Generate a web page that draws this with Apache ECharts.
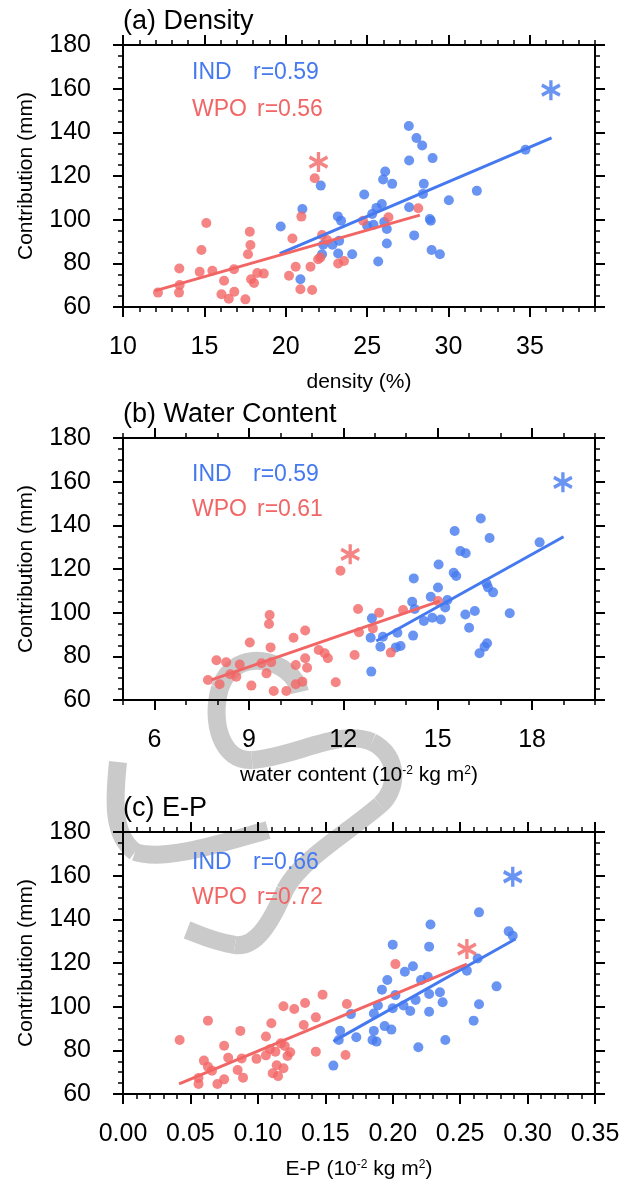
<!DOCTYPE html>
<html lang="en">
<head>
<meta charset="utf-8">
<title>Contribution scatter</title>
<script src="https://cdn.jsdelivr.net/npm/echarts@6/dist/echarts.min.js"></script>
<style>
  html, body { margin: 0; padding: 0; background: #fff; }
  #main { width: 643px; height: 1182px; }
</style>
</head>
<body>
<div id="main"></div>
<script type="text/javascript">
// ---- (a) density ----
var aIndX = [27.56,28.03,28.38,27.58,29.02,34.73,26.11,25.98,26.54,22.15,24.82,28.48,28.43,30.02,31.74,27.58,25.90,25.57,25.31,21.02,23.20,23.40,28.85,28.91,25.00,25.39,26.05,26.21,19.69,27.89,23.28,22.87,22.30,26.21,22.23,23.22,24.08,28.96,29.47,25.68,20.90];
var aIndY = [142.9,137.4,134.0,127.1,128.2,132.0,122.1,118.4,116.4,115.6,111.5,116.4,111.8,108.9,113.2,105.7,107.2,105.4,102.6,104.9,101.5,99.5,100.3,99.5,97.2,97.7,98.9,95.7,96.9,92.8,90.3,88.5,88.5,89.1,84.2,84.5,84.2,86.1,84.2,80.8,72.7];
var aWpoX = [21.78,20.96,24.75,26.31,28.14,15.12,17.79,17.83,17.68,20.41,22.23,22.54,14.82,13.46,14.71,15.49,16.82,18.25,18.65,17.87,18.05,16.21,13.48,13.44,12.15,16.05,16.84,16.50,17.52,20.20,20.61,21.52,21.99,22.13,23.22,23.58,20.90,21.62];
var aWpoY = [119.0,101.4,99.5,101.1,105.2,98.5,94.5,88.4,84.2,91.4,93.0,90.7,86.1,77.6,76.1,76.6,77.3,75.6,75.3,72.7,71.0,72.0,70.1,66.6,66.6,65.8,67.0,63.8,63.5,74.3,78.4,78.4,81.9,82.7,79.9,81.1,68.1,67.8];
var aStarInd = [36.29, 159.3], aStarWpo = [22.01, 126.4];
var aFitInd = [[19.63, 84.5], [36.33, 137.5]];
var aFitWpo = [[11.95, 67.4], [28.24, 102.1]];

// ---- (b) water content ----
var bIndX = [16.37,15.54,16.65,18.24,15.72,15.89,15.03,14.24,15.51,15.59,16.55,16.60,16.76,15.01,14.78,15.31,15.24,14.19,14.27,17.29,15.88,16.18,16.00,14.56,14.83,15.10,12.91,12.87,13.26,13.72,13.18,13.67,13.82,14.22,16.57,16.49,16.33,12.89];
var bIndY = [143.1,137.4,134.2,132.2,128.2,127.2,122.1,115.7,118.3,116.8,113.4,111.6,109.3,111.5,107.3,105.8,102.4,105.0,101.7,99.7,99.2,100.8,93.1,96.2,97.7,96.9,97.4,88.5,89.0,90.8,84.4,84.1,84.7,89.5,86.0,84.4,81.4,73.0];
var bWpoX = [11.91,12.47,13.14,13.90,15.01,12.94,12.50,9.66,9.64,10.79,10.42,9.03,9.69,11.22,11.41,11.51,12.36,13.51,10.79,10.49,10.85,7.97,8.28,8.71,9.40,9.71,9.56,8.41,7.70,8.07,8.60,9.08,9.79,10.19,10.49,10.70,11.76];
var bWpoY = [119.2,101.7,100.0,101.2,105.3,92.8,91.0,98.9,94.8,91.8,88.5,86.3,84.1,82.9,81.4,79.1,80.6,81.7,79.1,76.0,74.8,78.2,77.3,76.3,76.8,77.3,72.2,71.8,69.2,67.2,70.7,66.6,64.1,64.1,67.2,68.4,68.1];
var bStarInd = [18.98, 159.7], bStarWpo = [12.22, 126.7];
var bFitInd = [[13.05, 87.0], [19.0, 134.8]];
var bFitWpo = [[7.81, 69.2], [15.06, 105.3]];

// ---- (c) E-P ----
var cIndX = [0.264,0.228,0.286,0.289,0.200,0.227,0.263,0.215,0.209,0.255,0.196,0.221,0.226,0.277,0.192,0.202,0.227,0.235,0.217,0.237,0.264,0.189,0.200,0.208,0.213,0.227,0.169,0.186,0.260,0.194,0.199,0.161,0.186,0.173,0.185,0.188,0.160,0.239,0.219,0.156];
var cIndY = [143.2,137.6,134.5,132.5,128.4,127.5,122.1,118.5,116.0,116.5,112.2,112.2,113.7,109.3,107.8,105.3,105.8,106.6,103.1,102.0,101.1,100.5,99.3,100.5,98.0,97.7,96.6,96.9,93.6,91.1,89.5,89.0,88.9,86.0,84.7,84.0,84.7,84.7,81.4,73.0];
var cWpoX = [0.202,0.148,0.166,0.119,0.127,0.135,0.143,0.134,0.110,0.063,0.087,0.106,0.042,0.075,0.117,0.120,0.109,0.113,0.124,0.122,0.143,0.165,0.078,0.088,0.099,0.106,0.060,0.063,0.066,0.056,0.056,0.070,0.075,0.085,0.089,0.111,0.115,0.114,0.119];
var cWpoY = [119.5,105.5,101.2,100.2,98.9,101.7,95.1,91.6,92.4,93.6,88.9,86.3,84.7,82.1,83.2,82.0,80.5,79.4,79.1,77.4,79.4,77.9,76.6,76.3,76.1,77.7,75.3,72.5,70.7,67.3,64.6,64.6,66.7,71.0,67.5,69.5,68.2,73.2,71.8];
var cStarInd = [0.289, 159.5], cStarWpo = [0.255, 126.4];
var cFitInd = [[0.156, 84.1], [0.291, 131.0]];
var cFitWpo = [[0.0416, 64.6], [0.255, 119.5]];

// ---- ticks / labels ----
var yTicks = [60, 80, 100, 120, 140, 160, 180];
var aTicks = [10, 15, 20, 25, 30, 35];
var bTicks = [6, 9, 12, 15, 18];
var cTicks = [0, 0.05, 0.10, 0.15, 0.20, 0.25, 0.30, 0.35];
var titles = ['(a) Density', '(b) Water Content', '(c) E-P'];
var xNames = ['density (%)', 'water content (10{sup|-2} kg m{sup|2})', 'E-P (10{sup|-2} kg m{sup|2})'];
var rInd = ['r=0.59', 'r=0.59', 'r=0.66'];
var rWpo = ['r=0.56', 'r=0.61', 'r=0.72'];

var BLUE = '#4579ef';
var RED = '#f26565';
var GREY = '#cacaca';
var FONT = 'Liberation Sans, Arial, Helvetica, sans-serif';
var STAR = 'path://M0,-10L0,10M-8.66,-5L8.66,5M-8.66,5L8.66,-5';

function zip(xs, ys) {
    var out = [];
    for (var i = 0; i < xs.length; i++) out.push([xs[i], ys[i]]);
    return out;
}

var panels = [
    {top: 45, min: 10, max: 39, ticks: aTicks, minor: 1, fmt: function (v) { return String(v); },
     ind: zip(aIndX, aIndY), wpo: zip(aWpoX, aWpoY), sInd: aStarInd, sWpo: aStarWpo, fInd: aFitInd, fWpo: aFitWpo,
     tInd: [73, 110]},
    {top: 438, min: 5, max: 20, ticks: bTicks, minor: 1, fmt: function (v) { return String(v); },
     ind: zip(bIndX, bIndY), wpo: zip(bWpoX, bWpoY), sInd: bStarInd, sWpo: bStarWpo, fInd: bFitInd, fWpo: bFitWpo,
     tInd: [475, 510]},
    {top: 832, min: 0, max: 0.35, ticks: cTicks, minor: 0.01, fmt: function (v) { return v.toFixed(2); },
     ind: zip(cIndX, cIndY), wpo: zip(cWpoX, cWpoY), sInd: cStarInd, sWpo: cStarWpo, fInd: cFitInd, fWpo: cFitWpo,
     tInd: [863, 898]}
];

var grids = [], xAxes = [], yAxes = [], series = [], graphics = [];
var axisLine = {show: true, onZero: false, lineStyle: {color: '#000', width: 2}};
var noLine = {show: false, onZero: false};

// faint watermark strokes behind the plots
var marks = [
    [300,692, 292,658, 235,645, 220,688],
    [220,688, 210,722, 222,762, 252,760],
    [252,760, 295,757, 340,728, 372,742],
    [372,742, 400,756, 398,790, 380,805],
    [380,805, 345,835, 300,860, 285,890],
    [285,890, 270,925, 255,948, 235,945],
    [235,945, 215,942, 200,935, 187,930],
    [118,762, 114,800, 112,835, 135,852],
    [135,852, 165,862, 225,842, 268,830]
];
marks.forEach(function (m) {
    graphics.push({type: 'bezierCurve', z: -10, silent: true,
        shape: {x1: m[0], y1: m[1], cpx1: m[2], cpy1: m[3], cpx2: m[4], cpy2: m[5], x2: m[6], y2: m[7]},
        style: {stroke: GREY, lineWidth: 18, fill: null, lineCap: 'butt'}});
});

panels.forEach(function (p, gi) {
    grids.push({left: 123, width: 472, top: p.top, height: 262});

    var xBase = {gridIndex: gi, type: 'value', min: p.min, max: p.max, splitLine: {show: false}};
    xAxes.push(Object.assign({}, xBase, {
        position: 'bottom', axisLine: axisLine,
        axisTick: {customValues: p.ticks, length: 10, lineStyle: {color: '#000', width: 2}},
        axisLabel: {customValues: p.ticks, formatter: p.fmt, fontSize: 25, margin: 28, color: '#000', fontFamily: FONT},
        name: xNames[gi], nameLocation: 'middle', nameGap: 65,
        nameTextStyle: {fontSize: 21, color: '#000', fontFamily: FONT,
            rich: {sup: {fontSize: 12, color: '#000', fontFamily: FONT, verticalAlign: 'top'}}}
    }));
    xAxes.push(Object.assign({}, xBase, {
        position: 'bottom', interval: p.minor, axisLine: noLine,
        axisTick: {length: 5, lineStyle: {color: '#000', width: 1.5}}, axisLabel: {show: false}
    }));
    xAxes.push(Object.assign({}, xBase, {
        position: 'top', axisLine: axisLine,
        axisTick: {customValues: p.ticks, length: 10, lineStyle: {color: '#000', width: 2}}, axisLabel: {show: false}
    }));
    xAxes.push(Object.assign({}, xBase, {
        position: 'top', interval: p.minor, axisLine: noLine,
        axisTick: {length: 5, lineStyle: {color: '#000', width: 1.5}}, axisLabel: {show: false}
    }));

    var yBase = {gridIndex: gi, type: 'value', min: 60, max: 180, splitLine: {show: false}};
    yAxes.push(Object.assign({}, yBase, {
        position: 'left', axisLine: axisLine,
        axisTick: {customValues: yTicks, length: 10, lineStyle: {color: '#000', width: 2}},
        axisLabel: {customValues: yTicks, fontSize: 25, margin: 32, color: '#000', fontFamily: FONT},
        name: 'Contribution (mm)', nameLocation: 'middle', nameGap: 86,
        nameTextStyle: {fontSize: 21, color: '#000', fontFamily: FONT}
    }));
    yAxes.push(Object.assign({}, yBase, {
        position: 'left', interval: 5, axisLine: noLine,
        axisTick: {length: 5, lineStyle: {color: '#000', width: 1.5}}, axisLabel: {show: false}
    }));
    yAxes.push(Object.assign({}, yBase, {
        position: 'right', axisLine: axisLine,
        axisTick: {customValues: yTicks, length: 10, lineStyle: {color: '#000', width: 2}}, axisLabel: {show: false}
    }));
    yAxes.push(Object.assign({}, yBase, {
        position: 'right', interval: 5, axisLine: noLine,
        axisTick: {length: 5, lineStyle: {color: '#000', width: 1.5}}, axisLabel: {show: false}
    }));

    var ax = gi * 4;
    series.push({type: 'scatter', xAxisIndex: ax, yAxisIndex: ax, data: p.ind,
        symbolSize: 10, itemStyle: {color: BLUE}});
    series.push({type: 'scatter', xAxisIndex: ax, yAxisIndex: ax, data: p.wpo,
        symbolSize: 10, itemStyle: {color: RED}});
    series.push({type: 'line', xAxisIndex: ax, yAxisIndex: ax, data: p.fInd, showSymbol: false,
        lineStyle: {color: BLUE, width: 3}});
    series.push({type: 'line', xAxisIndex: ax, yAxisIndex: ax, data: p.fWpo, showSymbol: false,
        lineStyle: {color: RED, width: 3}});
    series.push({type: 'scatter', xAxisIndex: ax, yAxisIndex: ax, data: [p.sInd],
        symbol: STAR, symbolSize: [18, 20],
        itemStyle: {color: 'none', borderColor: BLUE, borderWidth: 3.5}});
    series.push({type: 'scatter', xAxisIndex: ax, yAxisIndex: ax, data: [p.sWpo],
        symbol: STAR, symbolSize: [18, 20],
        itemStyle: {color: 'none', borderColor: RED, borderWidth: 3.5}});

    graphics.push({type: 'text', left: 123, top: p.top - 37,
        style: {text: titles[gi], font: '27px ' + FONT, fill: '#000'}});
    graphics.push({type: 'text', x: 192, y: p.tInd[0],
        style: {text: 'IND', font: '23px ' + FONT, fill: BLUE, verticalAlign: 'middle'}});
    graphics.push({type: 'text', x: 253, y: p.tInd[0],
        style: {text: rInd[gi], font: '23px ' + FONT, fill: BLUE, verticalAlign: 'middle'}});
    graphics.push({type: 'text', x: 192, y: p.tInd[1],
        style: {text: 'WPO', font: '23px ' + FONT, fill: RED, verticalAlign: 'middle'}});
    graphics.push({type: 'text', x: 257, y: p.tInd[1],
        style: {text: rWpo[gi], font: '23px ' + FONT, fill: RED, verticalAlign: 'middle'}});
});

var myChart = echarts.init(document.getElementById('main'));
var option = {
    animation: false,
    backgroundColor: '#fff',
    grid: grids,
    xAxis: xAxes,
    yAxis: yAxes,
    series: series,
    graphic: graphics
};
myChart.setOption(option);
</script>
</body>
</html>
